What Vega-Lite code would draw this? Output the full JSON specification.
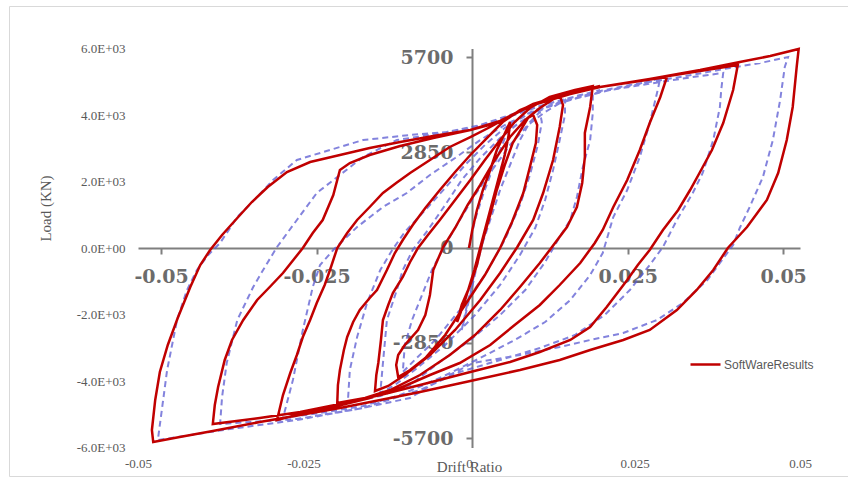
{
"$schema": "https://vega.github.io/schema/vega-lite/v6.json",
"width": 839, "height": 470,
"autosize": {"type": "none"},
"padding": {"left": 9, "top": 6, "right": 0, "bottom": 1},
"background": "white",
"config": {"view": {"stroke": "#d9d9d9", "strokeWidth": 1}, "axis": {"grid": false}},
"datasets": {
"sw": [
{"i":1,"x":0,"y":0},{"i":2,"x":0.0005,"y":541},{"i":3,"x":0.0012,"y":1143},{"i":4,"x":0.0021,"y":1744},{"i":5,"x":0.0032,"y":2346},{"i":6,"x":0.0042,"y":2947},{"i":7,"x":0.0053,"y":3398},{"i":8,"x":0.0062,"y":3789},
{"i":9,"x":0.0060,"y":3398},{"i":10,"x":0.0054,"y":2797},{"i":11,"x":0.0044,"y":2045},{"i":12,"x":0.0032,"y":1143},{"i":13,"x":0.0020,"y":241},{"i":14,"x":0.0008,"y":-662},{"i":15,"x":-0.0005,"y":-1504},{"i":16,"x":-0.0014,"y":-2015},{"i":17,"x":-0.0018,"y":-2226},
{"i":18,"x":-0.0011,"y":-1714},{"i":19,"x":0.0002,"y":-1113},{"i":20,"x":0.0012,"y":-511},{"i":21,"x":0.0021,"y":241},{"i":22,"x":0.0032,"y":992},{"i":23,"x":0.0042,"y":1744},{"i":24,"x":0.0054,"y":2496},{"i":25,"x":0.0066,"y":3158},{"i":26,"x":0.0080,"y":3609},{"i":27,"x":0.0089,"y":3910},{"i":28,"x":0.0097,"y":4000},
{"i":29,"x":0.0103,"y":3699},{"i":30,"x":0.0101,"y":3158},{"i":31,"x":0.0092,"y":2436},{"i":32,"x":0.0082,"y":1654},{"i":33,"x":0.0065,"y":782},{"i":34,"x":0.0047,"y":0},{"i":35,"x":0.0024,"y":-812},{"i":36,"x":-0.0006,"y":-1714},{"i":37,"x":-0.0036,"y":-2617},{"i":38,"x":-0.0066,"y":-3308},{"i":39,"x":-0.0089,"y":-3669},{"i":40,"x":-0.0107,"y":-3880},
{"i":41,"x":-0.0110,"y":-3519},{"i":42,"x":-0.0107,"y":-3218},{"i":43,"x":-0.0097,"y":-2917},{"i":44,"x":-0.0077,"y":-2466},{"i":45,"x":-0.0066,"y":-2015},{"i":46,"x":-0.0059,"y":-1414},{"i":47,"x":-0.0054,"y":-662},{"i":48,"x":-0.0039,"y":30},{"i":49,"x":-0.0021,"y":602},{"i":50,"x":-0.0002,"y":1293},{"i":51,"x":0.0017,"y":1895},{"i":52,"x":0.0039,"y":2647},{"i":53,"x":0.0062,"y":3338},{"i":54,"x":0.0085,"y":3850},{"i":55,"x":0.0107,"y":4211},{"i":56,"x":0.0137,"y":4601},
{"i":57,"x":0.0142,"y":4301},{"i":58,"x":0.0137,"y":3639},{"i":59,"x":0.0127,"y":2647},{"i":60,"x":0.0112,"y":1654},{"i":61,"x":0.0097,"y":842},{"i":62,"x":0.0073,"y":30},{"i":63,"x":0.0047,"y":-752},{"i":64,"x":0.0017,"y":-1564},{"i":65,"x":-0.0021,"y":-2466},{"i":66,"x":-0.0059,"y":-3218},{"i":67,"x":-0.0097,"y":-3820},{"i":68,"x":-0.0122,"y":-4150},{"i":69,"x":-0.0142,"y":-4301},
{"i":70,"x":-0.0140,"y":-3820},{"i":71,"x":-0.0137,"y":-3459},{"i":72,"x":-0.0133,"y":-2767},{"i":73,"x":-0.0130,"y":-2165},{"i":74,"x":-0.0122,"y":-1714},{"i":75,"x":-0.0115,"y":-1353},{"i":76,"x":-0.0100,"y":-872},{"i":77,"x":-0.0089,"y":-421},{"i":78,"x":-0.0077,"y":0},{"i":79,"x":-0.0062,"y":391},{"i":80,"x":-0.0044,"y":842},{"i":81,"x":-0.0021,"y":1444},{"i":82,"x":0.0002,"y":2045},{"i":83,"x":0.0024,"y":2647},{"i":84,"x":0.0047,"y":3248},{"i":85,"x":0.0069,"y":3789},{"i":86,"x":0.0092,"y":4211},{"i":87,"x":0.0122,"y":4541},{"i":88,"x":0.0160,"y":4752},{"i":89,"x":0.0187,"y":4872},
{"i":90,"x":0.0183,"y":4241},{"i":91,"x":0.0175,"y":3459},{"i":92,"x":0.0175,"y":2737},{"i":93,"x":0.0171,"y":1955},{"i":94,"x":0.0163,"y":1233},{"i":95,"x":0.0148,"y":632},{"i":96,"x":0.0122,"y":-60},{"i":97,"x":0.0107,"y":-451},{"i":98,"x":0.0077,"y":-1173},{"i":99,"x":0.0047,"y":-1865},{"i":100,"x":0.0009,"y":-2617},{"i":101,"x":-0.0029,"y":-3218},{"i":102,"x":-0.0074,"y":-3820},{"i":103,"x":-0.0119,"y":-4271},{"i":104,"x":-0.0157,"y":-4511},{"i":105,"x":-0.0199,"y":-4662},
{"i":106,"x":-0.0198,"y":-4120},{"i":107,"x":-0.0195,"y":-3669},{"i":108,"x":-0.0189,"y":-3068},{"i":109,"x":-0.0184,"y":-2677},{"i":110,"x":-0.0175,"y":-2226},{"i":111,"x":-0.0165,"y":-1865},{"i":112,"x":-0.0150,"y":-1504},{"i":113,"x":-0.0139,"y":-1263},{"i":114,"x":-0.0124,"y":-662},{"i":115,"x":-0.0112,"y":-150},{"i":116,"x":-0.0100,"y":241},{"i":117,"x":-0.0085,"y":692},{"i":118,"x":-0.0066,"y":1203},{"i":119,"x":-0.0044,"y":1744},{"i":120,"x":-0.0021,"y":2286},{"i":121,"x":0.0002,"y":2797},{"i":122,"x":0.0027,"y":3308},{"i":123,"x":0.0051,"y":3789},{"i":124,"x":0.0077,"y":4150},{"i":125,"x":0.0107,"y":4391},{"i":126,"x":0.0153,"y":4632},{"i":127,"x":0.0198,"y":4842},{"i":128,"x":0.0258,"y":5023},{"i":129,"x":0.0299,"y":5143},
{"i":130,"x":0.0289,"y":4541},{"i":131,"x":0.0273,"y":3759},{"i":132,"x":0.0258,"y":2947},{"i":133,"x":0.0239,"y":2045},{"i":134,"x":0.0218,"y":1233},{"i":135,"x":0.0202,"y":541},{"i":136,"x":0.0190,"y":150},{"i":137,"x":0.0168,"y":-451},{"i":138,"x":0.0137,"y":-1113},{"i":139,"x":0.0107,"y":-1714},{"i":140,"x":0.0069,"y":-2316},{"i":141,"x":0.0032,"y":-2917},{"i":142,"x":-0.0014,"y":-3459},{"i":143,"x":-0.0059,"y":-3820},{"i":144,"x":-0.0104,"y":-4211},{"i":145,"x":-0.0150,"y":-4511},{"i":146,"x":-0.0199,"y":-4752},{"i":147,"x":-0.0255,"y":-4992},{"i":148,"x":-0.0290,"y":-5173},
{"i":149,"x":-0.0281,"y":-4421},{"i":150,"x":-0.0270,"y":-3759},{"i":151,"x":-0.0260,"y":-3218},{"i":152,"x":-0.0251,"y":-2677},{"i":153,"x":-0.0240,"y":-2165},{"i":154,"x":-0.0230,"y":-1654},{"i":155,"x":-0.0218,"y":-1113},{"i":156,"x":-0.0210,"y":-662},{"i":157,"x":-0.0199,"y":0},{"i":158,"x":-0.0184,"y":451},{"i":159,"x":-0.0169,"y":842},{"i":160,"x":-0.0150,"y":1233},{"i":161,"x":-0.0130,"y":1654},{"i":162,"x":-0.0110,"y":1955},{"i":163,"x":-0.0089,"y":2256},{"i":164,"x":-0.0059,"y":2647},{"i":165,"x":-0.0029,"y":3038},{"i":166,"x":0.0002,"y":3338},{"i":167,"x":0.0032,"y":3639},{"i":168,"x":0.0062,"y":3970},{"i":169,"x":0.0097,"y":4301},{"i":170,"x":0.0153,"y":4632},{"i":171,"x":0.0198,"y":4842},{"i":172,"x":0.0273,"y":5083},{"i":173,"x":0.0349,"y":5323},{"i":174,"x":0.0406,"y":5504},
{"i":175,"x":0.0399,"y":4752},{"i":176,"x":0.0384,"y":3759},{"i":177,"x":0.0367,"y":2947},{"i":178,"x":0.0349,"y":2286},{"i":179,"x":0.0334,"y":1744},{"i":180,"x":0.0316,"y":1143},{"i":181,"x":0.0293,"y":541},{"i":182,"x":0.0273,"y":-60},{"i":183,"x":0.0255,"y":-511},{"i":184,"x":0.0239,"y":-962},{"i":185,"x":0.0208,"y":-1774},{"i":186,"x":0.0183,"y":-2376},{"i":187,"x":0.0153,"y":-2767},{"i":188,"x":0.0107,"y":-3128},{"i":189,"x":0.0062,"y":-3429},{"i":190,"x":0.0002,"y":-3729},{"i":191,"x":-0.0074,"y":-4120},{"i":192,"x":-0.0134,"y":-4421},{"i":193,"x":-0.0195,"y":-4692},{"i":194,"x":-0.0255,"y":-4932},{"i":195,"x":-0.0316,"y":-5113},{"i":196,"x":-0.0387,"y":-5293},
{"i":197,"x":-0.0384,"y":-4722},{"i":198,"x":-0.0379,"y":-4180},{"i":199,"x":-0.0369,"y":-3368},{"i":200,"x":-0.0358,"y":-2767},{"i":201,"x":-0.0341,"y":-2165},{"i":202,"x":-0.0320,"y":-1564},{"i":203,"x":-0.0301,"y":-1173},{"i":204,"x":-0.0281,"y":-752},{"i":205,"x":-0.0251,"y":0},{"i":206,"x":-0.0236,"y":451},{"i":207,"x":-0.0221,"y":842},{"i":208,"x":-0.0205,"y":1594},{"i":209,"x":-0.0195,"y":2346},{"i":210,"x":-0.0180,"y":2556},{"i":211,"x":-0.0150,"y":2797},{"i":212,"x":-0.0104,"y":3068},{"i":213,"x":-0.0054,"y":3308},{"i":214,"x":0.0002,"y":3549},{"i":215,"x":0.0047,"y":3820},{"i":216,"x":0.0097,"y":4331},{"i":217,"x":0.0153,"y":4632},{"i":218,"x":0.0198,"y":4842},{"i":219,"x":0.0273,"y":5083},{"i":220,"x":0.0349,"y":5353},{"i":221,"x":0.0409,"y":5594},{"i":222,"x":0.0455,"y":5774},{"i":223,"x":0.0498,"y":5985},
{"i":224,"x":0.0495,"y":5444},{"i":225,"x":0.0489,"y":4241},{"i":226,"x":0.0480,"y":3248},{"i":227,"x":0.0467,"y":2256},{"i":228,"x":0.0450,"y":1444},{"i":229,"x":0.0420,"y":632},{"i":230,"x":0.0391,"y":0},{"i":231,"x":0.0369,"y":-662},{"i":232,"x":0.0344,"y":-1263},{"i":233,"x":0.0314,"y":-1865},{"i":234,"x":0.0273,"y":-2466},{"i":235,"x":0.0233,"y":-2767},{"i":236,"x":0.0183,"y":-3068},{"i":237,"x":0.0137,"y":-3368},{"i":238,"x":0.0077,"y":-3669},{"i":239,"x":0.0002,"y":-4000},{"i":240,"x":-0.0074,"y":-4331},{"i":241,"x":-0.0134,"y":-4571},{"i":242,"x":-0.0195,"y":-4812},{"i":243,"x":-0.0255,"y":-5023},{"i":244,"x":-0.0316,"y":-5233},{"i":245,"x":-0.0387,"y":-5504},{"i":246,"x":-0.0437,"y":-5684},{"i":247,"x":-0.0477,"y":-5835},
{"i":248,"x":-0.0479,"y":-5474},{"i":249,"x":-0.0474,"y":-4571},{"i":250,"x":-0.0467,"y":-3729},{"i":251,"x":-0.0455,"y":-2917},{"i":252,"x":-0.0440,"y":-2105},{"i":253,"x":-0.0421,"y":-1173},{"i":254,"x":-0.0406,"y":-511},{"i":255,"x":-0.0391,"y":-60},{"i":256,"x":-0.0373,"y":391},{"i":257,"x":-0.0350,"y":902},{"i":258,"x":-0.0328,"y":1383},{"i":259,"x":-0.0304,"y":1835},{"i":260,"x":-0.0275,"y":2286},{"i":261,"x":-0.0240,"y":2586},{"i":262,"x":-0.0195,"y":2797},{"i":263,"x":-0.0150,"y":3008},{"i":264,"x":-0.0104,"y":3188},{"i":265,"x":-0.0054,"y":3368},{"i":266,"x":0.0002,"y":3549},{"i":267,"x":0.0047,"y":3789},{"i":268,"x":0.0097,"y":4331},{"i":269,"x":0.0153,"y":4662},{"i":270,"x":0.0198,"y":4872}
],
"exp": [
{"i":1,"x":0,"y":0},{"i":2,"x":0.0009,"y":842},{"i":3,"x":0.0021,"y":1594},{"i":4,"x":0.0035,"y":2346},{"i":5,"x":0.0047,"y":2947},{"i":6,"x":0.0062,"y":3699},
{"i":7,"x":0.0059,"y":3248},{"i":8,"x":0.0050,"y":2496},{"i":9,"x":0.0039,"y":1594},{"i":10,"x":0.0027,"y":692},{"i":11,"x":0.0014,"y":-361},{"i":12,"x":0.0002,"y":-1414},{"i":13,"x":-0.0011,"y":-2466},
{"i":14,"x":-0.0003,"y":-1714},{"i":15,"x":0.0006,"y":-962},{"i":16,"x":0.0017,"y":-60},{"i":17,"x":0.0032,"y":842},{"i":18,"x":0.0047,"y":1744},{"i":19,"x":0.0062,"y":2496},{"i":20,"x":0.0077,"y":3248},{"i":21,"x":0.0092,"y":3789},{"i":22,"x":0.0107,"y":4090},
{"i":23,"x":0.0110,"y":3789},{"i":24,"x":0.0104,"y":3098},{"i":25,"x":0.0092,"y":2195},{"i":26,"x":0.0077,"y":1293},{"i":27,"x":0.0054,"y":241},{"i":28,"x":0.0024,"y":-812},{"i":29,"x":-0.0014,"y":-1865},{"i":30,"x":-0.0051,"y":-2767},{"i":31,"x":-0.0082,"y":-3368},{"i":32,"x":-0.0100,"y":-3729},
{"i":33,"x":-0.0097,"y":-2917},{"i":34,"x":-0.0086,"y":-2165},{"i":35,"x":-0.0071,"y":-1414},{"i":36,"x":-0.0056,"y":-662},{"i":37,"x":-0.0036,"y":90},{"i":38,"x":-0.0014,"y":842},{"i":39,"x":0.0009,"y":1594},{"i":40,"x":0.0035,"y":2346},{"i":41,"x":0.0062,"y":3098},{"i":42,"x":0.0089,"y":3699},{"i":43,"x":0.0115,"y":4090},{"i":44,"x":0.0145,"y":4451},
{"i":45,"x":0.0145,"y":4000},{"i":46,"x":0.0137,"y":3248},{"i":47,"x":0.0127,"y":2346},{"i":48,"x":0.0115,"y":1444},{"i":49,"x":0.0100,"y":602},{"i":50,"x":0.0077,"y":-211},{"i":51,"x":0.0047,"y":-1113},{"i":52,"x":0.0009,"y":-2015},{"i":53,"x":-0.0036,"y":-2917},{"i":54,"x":-0.0082,"y":-3669},{"i":55,"x":-0.0112,"y":-4120},{"i":56,"x":-0.0134,"y":-4361},
{"i":57,"x":-0.0130,"y":-3459},{"i":58,"x":-0.0124,"y":-2165},{"i":59,"x":-0.0109,"y":-1263},{"i":60,"x":-0.0100,"y":-662},{"i":61,"x":-0.0085,"y":-60},{"i":62,"x":-0.0062,"y":541},{"i":63,"x":-0.0036,"y":1293},{"i":64,"x":-0.0011,"y":2045},{"i":65,"x":0.0017,"y":2707},{"i":66,"x":0.0047,"y":3308},{"i":67,"x":0.0077,"y":3789},{"i":68,"x":0.0115,"y":4211},{"i":69,"x":0.0153,"y":4451},{"i":70,"x":0.0187,"y":4662},
{"i":71,"x":0.0187,"y":4060},{"i":72,"x":0.0183,"y":3248},{"i":73,"x":0.0172,"y":2436},{"i":74,"x":0.0163,"y":1534},{"i":75,"x":0.0153,"y":842},{"i":76,"x":0.0137,"y":331},{"i":77,"x":0.0115,"y":-421},{"i":78,"x":0.0085,"y":-1263},{"i":79,"x":0.0047,"y":-2015},{"i":80,"x":0.0002,"y":-2767},{"i":81,"x":-0.0044,"y":-3429},{"i":82,"x":-0.0089,"y":-4120},{"i":83,"x":-0.0134,"y":-4451},{"i":84,"x":-0.0183,"y":-4632},
{"i":85,"x":-0.0180,"y":-3669},{"i":86,"x":-0.0169,"y":-2677},{"i":87,"x":-0.0154,"y":-1654},{"i":88,"x":-0.0134,"y":-662},{"i":89,"x":-0.0116,"y":-60},{"i":90,"x":-0.0097,"y":481},{"i":91,"x":-0.0066,"y":1143},{"i":92,"x":-0.0036,"y":1805},{"i":93,"x":-0.0006,"y":2496},{"i":94,"x":0.0024,"y":3098},{"i":95,"x":0.0054,"y":3609},{"i":96,"x":0.0092,"y":4060},{"i":97,"x":0.0137,"y":4391},{"i":98,"x":0.0198,"y":4692},{"i":99,"x":0.0258,"y":4932},{"i":100,"x":0.0289,"y":5113},
{"i":101,"x":0.0284,"y":4662},{"i":102,"x":0.0273,"y":3759},{"i":103,"x":0.0258,"y":2737},{"i":104,"x":0.0239,"y":1744},{"i":105,"x":0.0218,"y":932},{"i":106,"x":0.0202,"y":-150},{"i":107,"x":0.0183,"y":-812},{"i":108,"x":0.0153,"y":-1564},{"i":109,"x":0.0115,"y":-2226},{"i":110,"x":0.0069,"y":-2767},{"i":111,"x":0.0017,"y":-3308},{"i":112,"x":-0.0044,"y":-3910},{"i":113,"x":-0.0104,"y":-4421},{"i":114,"x":-0.0160,"y":-4752},{"i":115,"x":-0.0225,"y":-4962},{"i":116,"x":-0.0281,"y":-5113},
{"i":117,"x":-0.0266,"y":-3970},{"i":118,"x":-0.0251,"y":-2466},{"i":119,"x":-0.0236,"y":-1173},{"i":120,"x":-0.0225,"y":-511},{"i":121,"x":-0.0205,"y":-60},{"i":122,"x":-0.0169,"y":632},{"i":123,"x":-0.0130,"y":1233},{"i":124,"x":-0.0094,"y":1654},{"i":125,"x":-0.0059,"y":2195},{"i":126,"x":-0.0021,"y":2707},{"i":127,"x":0.0017,"y":3248},{"i":128,"x":0.0054,"y":3699},{"i":129,"x":0.0100,"y":4150},{"i":130,"x":0.0153,"y":4451},{"i":131,"x":0.0213,"y":4752},{"i":132,"x":0.0289,"y":4992},{"i":133,"x":0.0349,"y":5173},{"i":134,"x":0.0384,"y":5263},
{"i":135,"x":0.0381,"y":4752},{"i":136,"x":0.0379,"y":4241},{"i":137,"x":0.0369,"y":3248},{"i":138,"x":0.0353,"y":2256},{"i":139,"x":0.0338,"y":1654},{"i":140,"x":0.0314,"y":842},{"i":141,"x":0.0293,"y":30},{"i":142,"x":0.0273,"y":-511},{"i":143,"x":0.0243,"y":-1263},{"i":144,"x":0.0205,"y":-2015},{"i":145,"x":0.0160,"y":-2617},{"i":146,"x":0.0107,"y":-3008},{"i":147,"x":0.0047,"y":-3368},{"i":148,"x":-0.0014,"y":-3729},{"i":149,"x":-0.0074,"y":-4271},{"i":150,"x":-0.0160,"y":-4812},{"i":151,"x":-0.0260,"y":-5143},{"i":152,"x":-0.0376,"y":-5293},
{"i":153,"x":-0.0373,"y":-4481},{"i":154,"x":-0.0366,"y":-3459},{"i":155,"x":-0.0350,"y":-2165},{"i":156,"x":-0.0326,"y":-1173},{"i":157,"x":-0.0311,"y":-662},{"i":158,"x":-0.0290,"y":30},{"i":159,"x":-0.0260,"y":842},{"i":160,"x":-0.0230,"y":1654},{"i":161,"x":-0.0199,"y":2135},{"i":162,"x":-0.0160,"y":2737},{"i":163,"x":-0.0109,"y":3248},{"i":164,"x":-0.0059,"y":3398},{"i":165,"x":0.0002,"y":3609},{"i":166,"x":0.0047,"y":3850},{"i":167,"x":0.0107,"y":4271},{"i":168,"x":0.0168,"y":4601},{"i":169,"x":0.0243,"y":4902},{"i":170,"x":0.0319,"y":5143},{"i":171,"x":0.0394,"y":5414},{"i":172,"x":0.0440,"y":5564},{"i":173,"x":0.0482,"y":5744},
{"i":174,"x":0.0477,"y":5444},{"i":175,"x":0.0470,"y":4451},{"i":176,"x":0.0459,"y":3248},{"i":177,"x":0.0444,"y":2135},{"i":178,"x":0.0424,"y":1233},{"i":179,"x":0.0409,"y":602},{"i":180,"x":0.0399,"y":90},{"i":181,"x":0.0379,"y":-451},{"i":182,"x":0.0360,"y":-962},{"i":183,"x":0.0323,"y":-1654},{"i":184,"x":0.0284,"y":-2165},{"i":185,"x":0.0233,"y":-2556},{"i":186,"x":0.0183,"y":-2767},{"i":187,"x":0.0137,"y":-2977},{"i":188,"x":0.0077,"y":-3218},{"i":189,"x":0.0006,"y":-3459},{"i":190,"x":-0.0044,"y":-3970},{"i":191,"x":-0.0089,"y":-4511},{"i":192,"x":-0.0160,"y":-4812},{"i":193,"x":-0.0260,"y":-5173},{"i":194,"x":-0.0361,"y":-5444},{"i":195,"x":-0.0470,"y":-5774},
{"i":196,"x":-0.0467,"y":-5323},{"i":197,"x":-0.0464,"y":-4872},{"i":198,"x":-0.0456,"y":-3669},{"i":199,"x":-0.0441,"y":-2165},{"i":200,"x":-0.0426,"y":-1263},{"i":201,"x":-0.0411,"y":-662},{"i":202,"x":-0.0394,"y":-211},{"i":203,"x":-0.0376,"y":150},{"i":204,"x":-0.0350,"y":932},{"i":205,"x":-0.0320,"y":1534},{"i":206,"x":-0.0296,"y":2045},{"i":207,"x":-0.0260,"y":2647},{"i":208,"x":-0.0210,"y":2947},{"i":209,"x":-0.0160,"y":3248},{"i":210,"x":-0.0089,"y":3398},{"i":211,"x":-0.0033,"y":3489},{"i":212,"x":0.0017,"y":3699},{"i":213,"x":0.0062,"y":4000},{"i":214,"x":0.0107,"y":4271},{"i":215,"x":0.0153,"y":4511},{"i":216,"x":0.0198,"y":4752}
]
},
"layer": [
{
"encoding": {
"x": {"field": "x", "type": "quantitative",
 "scale": {"domain": [-0.05, 0.05], "range": [129, 791], "nice": false, "zero": false},
 "axis": {"orient": "bottom", "offset": -28.5, "values": [-0.05, -0.025, 0, 0.025, 0.05],
  "labelExpr": "'' + datum.value", "domain": false, "ticks": false, "tickSize": 0, "grid": false,
  "labelPadding": 10, "labelFont": "Liberation Serif", "labelFontSize": 13, "labelColor": "#595959",
  "labelFlush": false, "labelOverlap": false, "labelBound": false,
  "title": "Drift Ratio", "titleFont": "Liberation Serif", "titleFontSize": 15, "titleFontWeight": "normal",
  "titleColor": "#595959", "titleY": 18.5, "titleBaseline": "middle"}},
"y": {"field": "y", "type": "quantitative",
 "scale": {"domain": [-6000, 6000], "range": [441.5, 42.5], "nice": false, "zero": false},
 "axis": {"orient": "left", "offset": -129, "values": [-6000, -4000, -2000, 0, 2000, 4000, 6000],
  "labelExpr": "datum.value == 0 ? '0.0E+00' : (datum.value < 0 ? '-' : '') + format(abs(datum.value) / 1000, '.1f') + 'E+03'",
  "domain": false, "ticks": false, "tickSize": 0, "grid": false,
  "labelPadding": 13, "labelFont": "Liberation Serif", "labelFontSize": 13, "labelColor": "#595959",
  "labelFlush": false, "labelOverlap": false, "labelBound": false,
  "title": "Load (KN)", "titleFont": "Liberation Serif", "titleFontSize": 15, "titleFontWeight": "normal",
  "titleColor": "#595959", "titleAngle": -90, "titleAlign": "center", "titleBaseline": "middle",
  "titleX": -93, "titleY": 202}},
"order": {"field": "i", "type": "quantitative"}
},
"layer": [
{"data": {"name": "exp"},
 "mark": {"type": "line", "stroke": "#5a5ad2", "strokeDash": [6, 4], "strokeWidth": 2, "opacity": 0.75}},
{"data": {"name": "sw"},
 "mark": {"type": "line", "strokeWidth": 2.5},
 "encoding": {"color": {"datum": "SoftWareResults", "type": "nominal",
  "scale": {"range": ["#c00000"]},
  "legend": {"orient": "none", "legendX": 680, "legendY": 342, "title": null,
   "symbolType": "stroke", "symbolSize": 900, "symbolStrokeWidth": 2.5,
   "labelFont": "Liberation Sans", "labelFontSize": 12, "labelColor": "#595959",
   "labelOffset": 2, "padding": 0}}}}
]
},
{
"data": {"values": [{"x": 0, "y": 0}]},
"mark": {"type": "point", "opacity": 0},
"encoding": {
"x": {"field": "x", "type": "quantitative",
 "scale": {"domain": [-0.0537, 0.0527], "range": [129, 791], "nice": false, "zero": false},
 "axis": {"orient": "bottom", "offset": -228, "values": [-0.05, -0.025, 0.025, 0.05],
  "labelExpr": "'' + datum.value", "domain": true, "domainColor": "#7f7f7f", "domainWidth": 2,
  "ticks": true, "tickSize": 6, "tickColor": "#7f7f7f", "tickWidth": 2, "grid": false,
  "labelPadding": 13, "labelFont": "DejaVu Serif", "labelFontWeight": "bold", "labelFontSize": 19, "labelColor": "#6b6b6b",
  "labelFlush": false, "labelOverlap": false, "labelBound": false, "title": null}},
"y": {"field": "y", "type": "quantitative",
 "scale": {"domain": [-5984, 5955], "range": [441.5, 42.5], "nice": false, "zero": false},
 "axis": {"orient": "left", "offset": -463, "values": [-5700, -2850, 0, 2850, 5700],
  "labelExpr": "'' + datum.value", "domain": true, "domainColor": "#7f7f7f", "domainWidth": 2,
  "ticks": true, "tickSize": 6, "tickColor": "#7f7f7f", "tickWidth": 2, "grid": false,
  "labelPadding": 13, "labelFont": "DejaVu Serif", "labelFontWeight": "bold", "labelFontSize": 19, "labelColor": "#6b6b6b",
  "labelFlush": false, "labelOverlap": false, "labelBound": false, "title": null}}
}
}
],
"resolve": {"scale": {"x": "independent", "y": "independent"}, "axis": {"x": "independent", "y": "independent"}}
}
